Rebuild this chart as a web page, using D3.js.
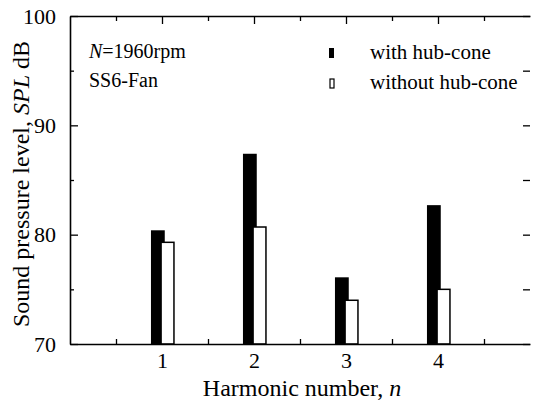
<!DOCTYPE html>
<html>
<head>
<meta charset="UTF-8">
<style>
    body { margin: 0; background: #fff; }
    svg text { font-family: "Liberation Serif", "DejaVu Serif", "Times New Roman", serif; fill: #000; }
</style>
</head>
<body>
<svg></svg>
<script src="https://d3js.org/d3.v7.min.js"></script>
<script>
    // data
    const harmonics = [1, 2, 3, 4];
    const withHub = [80.4, 87.4, 76.1, 82.7];
    const withoutHub = [79.3, 80.7, 74.0, 75.0];
    const yTicks = [70, 80, 90, 100];
    const yMinor = [75, 85, 95];
    const xMinor = [0.5, 1.5, 2.5, 3.5, 4.5];

    let width = 533, height = 408;
    let plotLeft = 70, plotRight = 530, plotTop = 16, plotBottom = 344;

    let svg = d3.select("svg").attr("width", width).attr("height", height);

    let x = d3.scaleLinear().domain([0, 5]).range([plotLeft, plotRight]);
    let y = d3.scaleLinear().domain([70, 100]).range([plotBottom, plotTop]);

    // bars (black first, white overlaps it a little)
    svg.append("g").selectAll("rect")
        .data(harmonics)
        .enter().append("rect")
        .attr("x", (d, i) => x(d - 0.12))
        .attr("width", x(0.15) - x(0))
        .attr("y", (d, i) => y(withHub[i]))
        .attr("height", (d, i) => y(70) - y(withHub[i]))
        .style("fill", "#000");

    svg.append("g").selectAll("rect")
        .data(harmonics)
        .enter().append("rect")
        .attr("x", (d, i) => x(d - 0.01))
        .attr("width", x(0.14) - x(0))
        .attr("y", (d, i) => y(withoutHub[i]))
        .attr("height", (d, i) => y(70) - y(withoutHub[i]))
        .style("fill", "#fff")
        .style("stroke", "#000")
        .style("stroke-width", 1.5);

    // left axis, ticks pointing inward
    let yAxis = svg.append("g").attr("transform", `translate(${plotLeft},0)`)
        .call(d3.axisLeft(y).tickValues(yTicks).tickSizeInner(-8).tickSizeOuter(0).tickPadding(4).tickFormat(d3.format("d")));
    yAxis.selectAll("text").style("font-size", "22px").attr("dx", "-10");
    svg.append("g").attr("transform", `translate(${plotLeft},0)`)
        .call(d3.axisLeft(y).tickValues(yMinor).tickSize(-4).tickFormat(""))
        .select(".domain").remove();

    // right ticks only
    svg.append("g").attr("transform", `translate(${plotRight},0)`)
        .call(d3.axisRight(y).tickValues(yTicks.concat(yMinor)).tickSize(-7).tickFormat(""))
        .select(".domain").remove();

    // bottom axis
    let xAxis = svg.append("g").attr("transform", `translate(0,${plotBottom})`)
        .call(d3.axisBottom(x).tickValues(harmonics).tickSize(0).tickPadding(8).tickFormat(d3.format("d")));
    xAxis.selectAll("text").style("font-size", "22px");
    svg.append("g").attr("transform", `translate(0,${plotBottom})`)
        .call(d3.axisBottom(x).tickValues(xMinor).tickSize(-5).tickFormat(""))
        .select(".domain").remove();

    // top axis
    svg.append("g").attr("transform", `translate(0,${plotTop})`)
        .call(d3.axisTop(x).tickValues(harmonics).tickSize(-8).tickSizeOuter(0).tickFormat(""));
    svg.append("g").attr("transform", `translate(0,${plotTop})`)
        .call(d3.axisTop(x).tickValues(xMinor).tickSize(-5).tickFormat(""))
        .select(".domain").remove();

    svg.selectAll(".domain").style("stroke-width", 1.6);
    svg.selectAll(".tick line").style("stroke-width", 1.3);

    // axis titles
    svg.append("text")
        .attr("x", 302).attr("y", 396)
        .attr("text-anchor", "middle")
        .style("font-size", "24px")
        .html('Harmonic number, <tspan font-style="italic">n</tspan>');

    svg.append("text")
        .attr("transform", "translate(29,184) rotate(-90)")
        .attr("text-anchor", "middle")
        .style("font-size", "24px")
        .html('Sound pressure level, <tspan font-style="italic">SPL</tspan> dB');

    // notes
    svg.append("text").attr("x", 89).attr("y", 58).style("font-size", "20px")
        .html('<tspan font-style="italic">N</tspan>=1960rpm');
    svg.append("text").attr("x", 89).attr("y", 87).style("font-size", "20px").text("SS6-Fan");

    // legend
    svg.append("rect").attr("x", 329).attr("y", 48).attr("width", 5).attr("height", 10).style("fill", "#000");
    svg.append("rect").attr("x", 330).attr("y", 79).attr("width", 4).attr("height", 9)
        .style("fill", "#fff").style("stroke", "#000").style("stroke-width", 1.2);
    svg.append("text").attr("x", 370).attr("y", 59).style("font-size", "21px").text("with hub-cone");
    svg.append("text").attr("x", 370).attr("y", 89).style("font-size", "21px").text("without hub-cone");
</script>
</body>
</html>
